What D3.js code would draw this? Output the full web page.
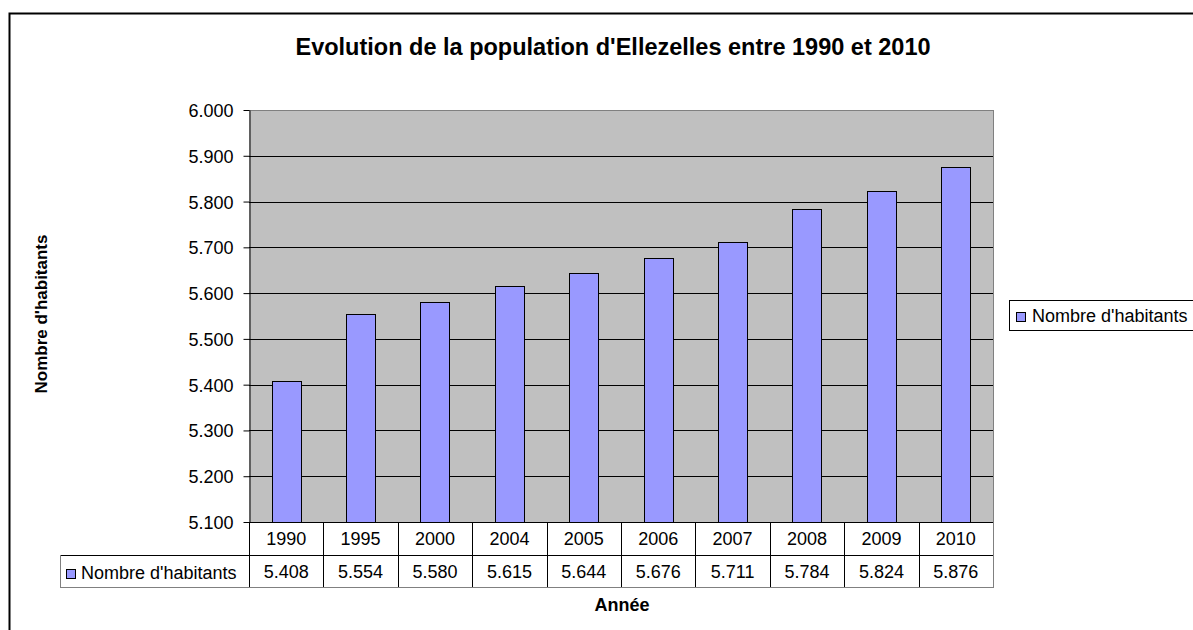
<!DOCTYPE html>
<html><head><meta charset="utf-8">
<script src="https://cdn.jsdelivr.net/npm/d3@7"></script>
<style>body{margin:0;background:#fff}svg{display:block;font-family:"Liberation Sans",Arial,sans-serif}</style>
</head><body>
<script>
const categories = ["1990","1995","2000","2004","2005","2006","2007","2008","2009","2010"];
const values = [5408,5554,5580,5615,5644,5676,5711,5784,5824,5876];
const yTicks = [5100,5200,5300,5400,5500,5600,5700,5800,5900,6000];
const seriesName = "Nombre d'habitants";
const title = "Evolution de la population d'Ellezelles entre 1990 et 2010";
const xTitle = "Année";
const yTitle = "Nombre d'habitants";

const W=1193,H=630;
const svg=d3.select("body").append("svg").attr("width",W).attr("height",H);
const L=249,R=993,T=110,B=522;
const fmt=v=>d3.format(",.0f")(v).replace(/,/g,".");
const fmtTick=v=>(v/1000).toFixed(3);
const FS=18;

// outer border
svg.append("rect").attr("x",9.5).attr("y",13.5).attr("width",W).attr("height",H).attr("fill","none").attr("stroke","#000").attr("stroke-width",2);

const x=d3.scaleBand().domain(categories).range([L,R]).paddingInner(0.61).paddingOuter(0.305);
const xc=d3.scaleBand().domain(categories).range([L,R]);
const y=d3.scaleLinear().domain([5100,6000]).range([B,T]);

svg.append("rect").attr("x",L).attr("y",T).attr("width",R-L).attr("height",B-T).attr("fill","#C0C0C0");
svg.append("g").selectAll("line").data(yTicks.slice(1,-1)).join("line")
 .attr("x1",L).attr("x2",R).attr("y1",d=>Math.round(y(d))+0.5).attr("y2",d=>Math.round(y(d))+0.5).attr("stroke","#000");
svg.append("line").attr("x1",L).attr("x2",R).attr("y1",T+0.5).attr("y2",T+0.5).attr("stroke","#808080");
svg.append("line").attr("x1",R+0.5).attr("x2",R+0.5).attr("y1",T).attr("y2",B).attr("stroke","#808080");

svg.append("g").selectAll("rect").data(values).join("rect")
 .attr("x",(d,i)=>Math.round(x(categories[i]))+0.5).attr("width",Math.round(x.bandwidth()))
 .attr("y",d=>Math.round(y(d))+0.5).attr("height",d=>B-Math.round(y(d)))
 .attr("fill","#9999FF").attr("stroke","#000");

const yAxis=d3.axisLeft(y).tickValues(yTicks).tickFormat(fmtTick).tickSize(6).tickSizeOuter(0);
const ga=svg.append("g").attr("transform",`translate(${L+0.5},0)`).call(yAxis);
ga.attr("font-size",FS).attr("font-family","Liberation Sans, Arial");
ga.select(".domain").attr("stroke","#000");
ga.selectAll(".tick line").attr("stroke","#000");
ga.selectAll(".tick text").attr("fill","#000").attr("x",-16).attr("dy","0.36em");

// data table
const r1=B,r2=555,r3=587;
const tg=svg.append("g").attr("font-size",FS);
tg.append("line").attr("x1",L).attr("x2",R).attr("y1",r1+0.5).attr("y2",r1+0.5).attr("stroke","#000");
tg.append("line").attr("x1",60).attr("x2",R).attr("y1",r2+0.5).attr("y2",r2+0.5).attr("stroke","#000");
tg.append("line").attr("x1",60).attr("x2",R+1).attr("y1",r3+0.5).attr("y2",r3+0.5).attr("stroke","#808080");
tg.append("line").attr("x1",60.5).attr("x2",60.5).attr("y1",r2).attr("y2",r3).attr("stroke","#808080");
const bounds=categories.map(c=>xc(c)).concat([R]);
tg.selectAll("line.v").data(bounds).join("line").attr("class","v")
 .attr("x1",d=>Math.round(d)+0.5).attr("x2",d=>Math.round(d)+0.5).attr("y1",r1).attr("y2",r3)
 .attr("stroke",(d,i)=>i===bounds.length-1?"#808080":"#000");
tg.selectAll("text.c").data(categories).join("text").attr("class","c")
 .attr("x",d=>xc(d)+xc.bandwidth()/2).attr("y",545).attr("text-anchor","middle").text(d=>d);
tg.selectAll("text.v").data(values).join("text").attr("class","v")
 .attr("x",(d,i)=>xc(categories[i])+xc.bandwidth()/2).attr("y",578).attr("text-anchor","middle").text(d=>fmt(d));
tg.append("rect").attr("x",66.5).attr("y",569.5).attr("width",9).attr("height",9).attr("fill","#9999FF").attr("stroke","#000");
tg.append("text").attr("x",81).attr("y",579).text(seriesName);

// legend
svg.append("rect").attr("x",1009.5).attr("y",300.5).attr("width",200).attr("height",30).attr("fill","#fff").attr("stroke","#000");
svg.append("rect").attr("x",1016.5).attr("y",312.5).attr("width",9).attr("height",9).attr("fill","#9999FF").attr("stroke","#000");
svg.append("text").attr("x",1032).attr("y",322).attr("font-size",FS).text(seriesName);

// titles
svg.append("text").attr("x",613).attr("y",55).attr("text-anchor","middle").attr("font-size",23.5).attr("font-weight","bold").text(title);
svg.append("text").attr("x",622).attr("y",611).attr("text-anchor","middle").attr("font-size",18).attr("font-weight","bold").text(xTitle);
svg.append("text").attr("transform","translate(47,314) rotate(-90)").attr("text-anchor","middle").attr("font-size",17).attr("font-weight","bold").text(yTitle);
</script>
</body></html>
